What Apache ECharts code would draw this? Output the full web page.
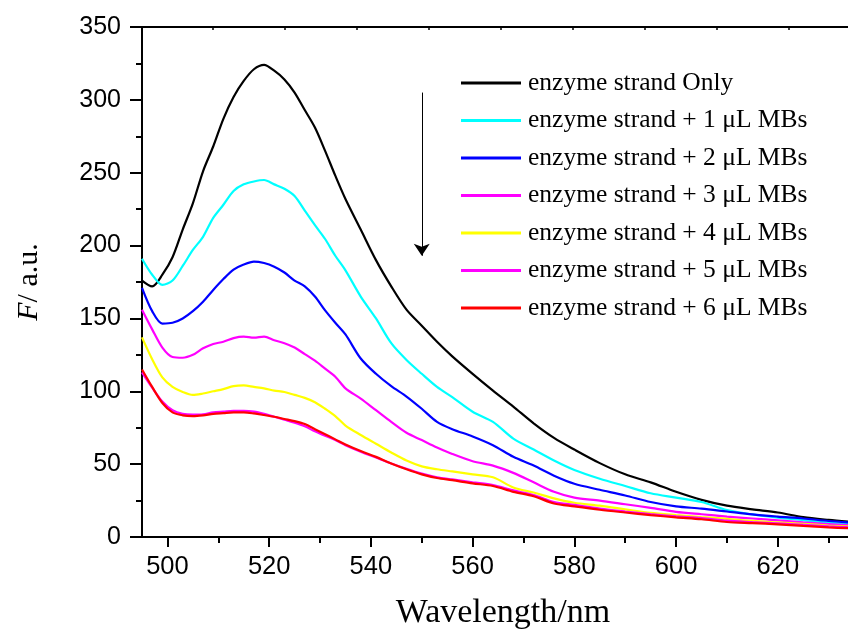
<!DOCTYPE html>
<html>
<head>
<meta charset="utf-8">
<script src="https://cdn.jsdelivr.net/npm/echarts@6/dist/echarts.min.js"></script>
<style>
  html, body { margin: 0; padding: 0; background: #fff; }
  #chart { width: 848px; height: 633px; }
</style>
</head>
<body>
<div id="chart"></div>
<script>
// longitudes de onda (nm) en las que se leyeron los espectros
const wavelength = [495, 497, 499, 501, 503, 505, 507, 509, 511, 513, 515, 517, 519, 521, 523, 525, 527, 529, 531, 533, 535, 538, 541, 544, 547, 550, 553, 556, 560, 564, 568, 572, 576, 580, 585, 590, 595, 600, 605, 610, 615, 620, 625, 630, 634];

const enzymeOnly = [176, 172, 180, 192, 211, 229, 251, 268, 287, 302, 313, 321, 324, 320, 314, 305, 293, 281, 265, 248, 232, 211, 190, 172, 156, 145, 134, 124, 112, 100.5, 89.5, 78, 68, 60, 50.7, 43, 37.5, 31, 25.5, 21.5, 19, 16.8, 13.6, 11.7, 10.5];
const mbs1 = [191, 180, 173, 176, 186, 197, 206, 219, 228, 237.5, 242, 244, 245, 242, 239, 234, 224, 214, 204.5, 193, 183, 165, 150, 133, 121.5, 112, 103, 96, 86, 79, 67.5, 60, 52.5, 46, 40, 35, 30, 27, 24, 18.5, 15.5, 13.3, 11.6, 9.8, 9];
const mbs2 = [171, 155, 146.5, 147, 150, 155, 161.5, 169.5, 177, 183.5, 187, 189, 188, 185.5, 181.5, 176, 172, 165, 155.5, 147, 139, 122.5, 112, 103.5, 96.4, 88, 79, 74, 69, 63, 55, 49, 42, 36.5, 32.4, 28.5, 24, 21, 19.5, 17.5, 15.5, 14, 12.7, 11, 10];
const mbs3 = [156, 142.5, 130, 123.5, 123, 125, 129.5, 132.5, 134, 136.5, 137.5, 136.8, 137.5, 135, 133, 130, 125.5, 121, 115.5, 110, 102, 95, 87, 79, 71.5, 66.5, 61.5, 57, 52, 49, 44, 37.5, 31, 27, 25, 22.5, 20, 17.3, 15.6, 14, 12.7, 11.4, 10, 8.8, 8.2];
const mbs4 = [137, 122, 109.5, 103, 99.5, 97.5, 98.5, 100, 101.5, 103.5, 104, 103, 102, 100.5, 99.5, 97.5, 95.5, 92.5, 88, 83, 76.5, 70, 64, 58, 52.5, 48.5, 46.5, 45, 43, 41, 34, 30.5, 26.5, 23.5, 21.5, 19, 16.5, 15, 13.7, 12.5, 11, 10, 9, 7.9, 7.3];
const mbs5 = [113, 102.5, 93, 87, 84.5, 84, 84.2, 85.5, 86, 86.5, 86.5, 86, 84.5, 82.5, 80.5, 78.5, 76, 72.5, 69.5, 66.5, 63, 58.5, 54.5, 50.5, 46.8, 43.5, 41, 39.5, 37.5, 35.7, 32, 28.8, 24, 22, 19.5, 17.5, 15.7, 14.2, 13, 11.2, 10.2, 9.3, 8.3, 7.3, 6.7];
const mbs6 = [115, 103, 92, 85.5, 83.5, 83, 83.5, 84.5, 85, 85.5, 85.5, 84.8, 83.7, 82.5, 81, 79.5, 77.5, 74, 70.5, 67, 63.5, 59, 55, 50.5, 46.5, 43, 40.5, 39, 36.8, 35, 31, 28, 23, 21, 18.7, 16.8, 15, 13.5, 12.2, 10.3, 9.5, 8.7, 7.6, 6.6, 6];

const seriesNames = [
  'enzyme strand Only',
  'enzyme strand + 1 μL MBs',
  'enzyme strand + 2 μL MBs',
  'enzyme strand + 3 μL MBs',
  'enzyme strand + 4 μL MBs',
  'enzyme strand + 5 μL MBs',
  'enzyme strand + 6 μL MBs'
];
const seriesValues = [enzymeOnly, mbs1, mbs2, mbs3, mbs4, mbs5, mbs6];
const seriesColors = ['#000000', '#00ffff', '#0000ff', '#ff00ff', '#ffff00', '#ff00ff', '#ff0000'];

const xMajorTicks = [500, 520, 540, 560, 580, 600, 620];
const xMinorTicks = [510, 530, 550, 570, 590, 610, 630];
// marcas del eje superior (sin etiquetas, otra escala en el original)
const xTopTicks = [508.9, 523.0, 537.2, 551.3, 565.5, 579.6, 593.8, 607.9, 622.1];

// flecha indicadora (coordenadas de datos)
const arrowFrom = [550, 305];
const arrowTo = [550, 193];

const sansFont = 'Liberation Sans, Arial, sans-serif';
const serifFont = 'Liberation Serif, Times New Roman, serif';

const chart = echarts.init(document.getElementById('chart'), null, { renderer: 'canvas' });

const series = seriesNames.map((name, i) => ({
  name,
  type: 'line',
  data: wavelength.map((w, k) => [w, seriesValues[i][k]]),
  showSymbol: false,
  symbol: 'none',
  smooth: 0.3,
  lineStyle: { color: seriesColors[i], width: 2.2 },
  itemStyle: { color: seriesColors[i] },
  z: 2 + i,
  animation: false
}));

series[0].markLine = {
  silent: true,
  symbol: ['none', 'arrow'],
  symbolSize: 12,
  label: { show: false },
  lineStyle: { color: '#000', width: 1, type: 'solid' },
  itemStyle: { color: '#000' },
  data: [[{ coord: arrowFrom }, { coord: arrowTo }]],
  animation: false
};

const option = {
  animation: false,
  backgroundColor: '#fff',
  // sin ajuste automático de límites: la rejilla queda fija
  grid: { left: 142, top: 27, right: 0, bottom: 96, containLabel: false, outerBoundsMode: 'none' },
  legend: {
    orient: 'vertical',
    left: 461,
    top: 70,
    padding: 0,
    itemGap: 11.5,
    itemWidth: 60,
    itemHeight: 3,
    icon: 'rect',
    textStyle: { fontFamily: serifFont, fontSize: 25.5, color: '#000', lineHeight: 26, padding: [0, 0, 0, 2] },
    data: seriesNames.map((n, i) => ({ name: n, itemStyle: { color: seriesColors[i] } }))
  },
  xAxis: [
    {
      type: 'value',
      min: 495,
      max: 633.8,
      position: 'bottom',
      name: 'Wavelength/nm',
      nameLocation: 'middle',
      nameGap: 59,
      nameTextStyle: { fontFamily: serifFont, fontSize: 34, color: '#000', padding: [0, 0, 0, 16] },
      axisLine: { show: true, onZero: false, lineStyle: { color: '#000', width: 2 } },
      axisTick: { show: true, inside: false, length: 10, customValues: xMajorTicks, lineStyle: { color: '#000', width: 2 } },
      axisLabel: { show: true, customValues: xMajorTicks, margin: 17, fontFamily: sansFont, fontSize: 25.5, color: '#000' },
      splitLine: { show: false }
    },
    {
      type: 'value',
      min: 495,
      max: 633.8,
      position: 'bottom',
      axisLine: { show: false, onZero: false },
      axisTick: { show: true, inside: false, length: 6, customValues: xMinorTicks, lineStyle: { color: '#000', width: 2 } },
      axisLabel: { show: false },
      splitLine: { show: false }
    },
    {
      type: 'value',
      min: 495,
      max: 633.8,
      position: 'top',
      axisLine: { show: true, onZero: false, lineStyle: { color: '#000', width: 2 } },
      axisTick: { show: true, inside: true, length: 3, customValues: xTopTicks, lineStyle: { color: '#000', width: 1.5 } },
      axisLabel: { show: false },
      splitLine: { show: false }
    }
  ],
  yAxis: {
    type: 'value',
    min: 0,
    max: 350,
    interval: 50,
    name: '{i|F}/ a.u.',
    nameLocation: 'middle',
    nameGap: 98,
    nameRotate: 90,
    nameTextStyle: {
      fontFamily: serifFont, fontSize: 30, color: '#000',
      rich: { i: { fontFamily: serifFont, fontSize: 30, fontStyle: 'italic', color: '#000' } }
    },
    axisLine: { show: true, onZero: false, lineStyle: { color: '#000', width: 2 } },
    axisTick: { show: true, inside: false, length: 12, lineStyle: { color: '#000', width: 2 } },
    minorTick: { show: true, splitNumber: 2, length: 6, lineStyle: { color: '#000', width: 2 } },
    axisLabel: { margin: 21, fontFamily: sansFont, fontSize: 25, color: '#000' },
    splitLine: { show: false },
    minorSplitLine: { show: false }
  },
  series
};

chart.setOption(option);
</script>
</body>
</html>
